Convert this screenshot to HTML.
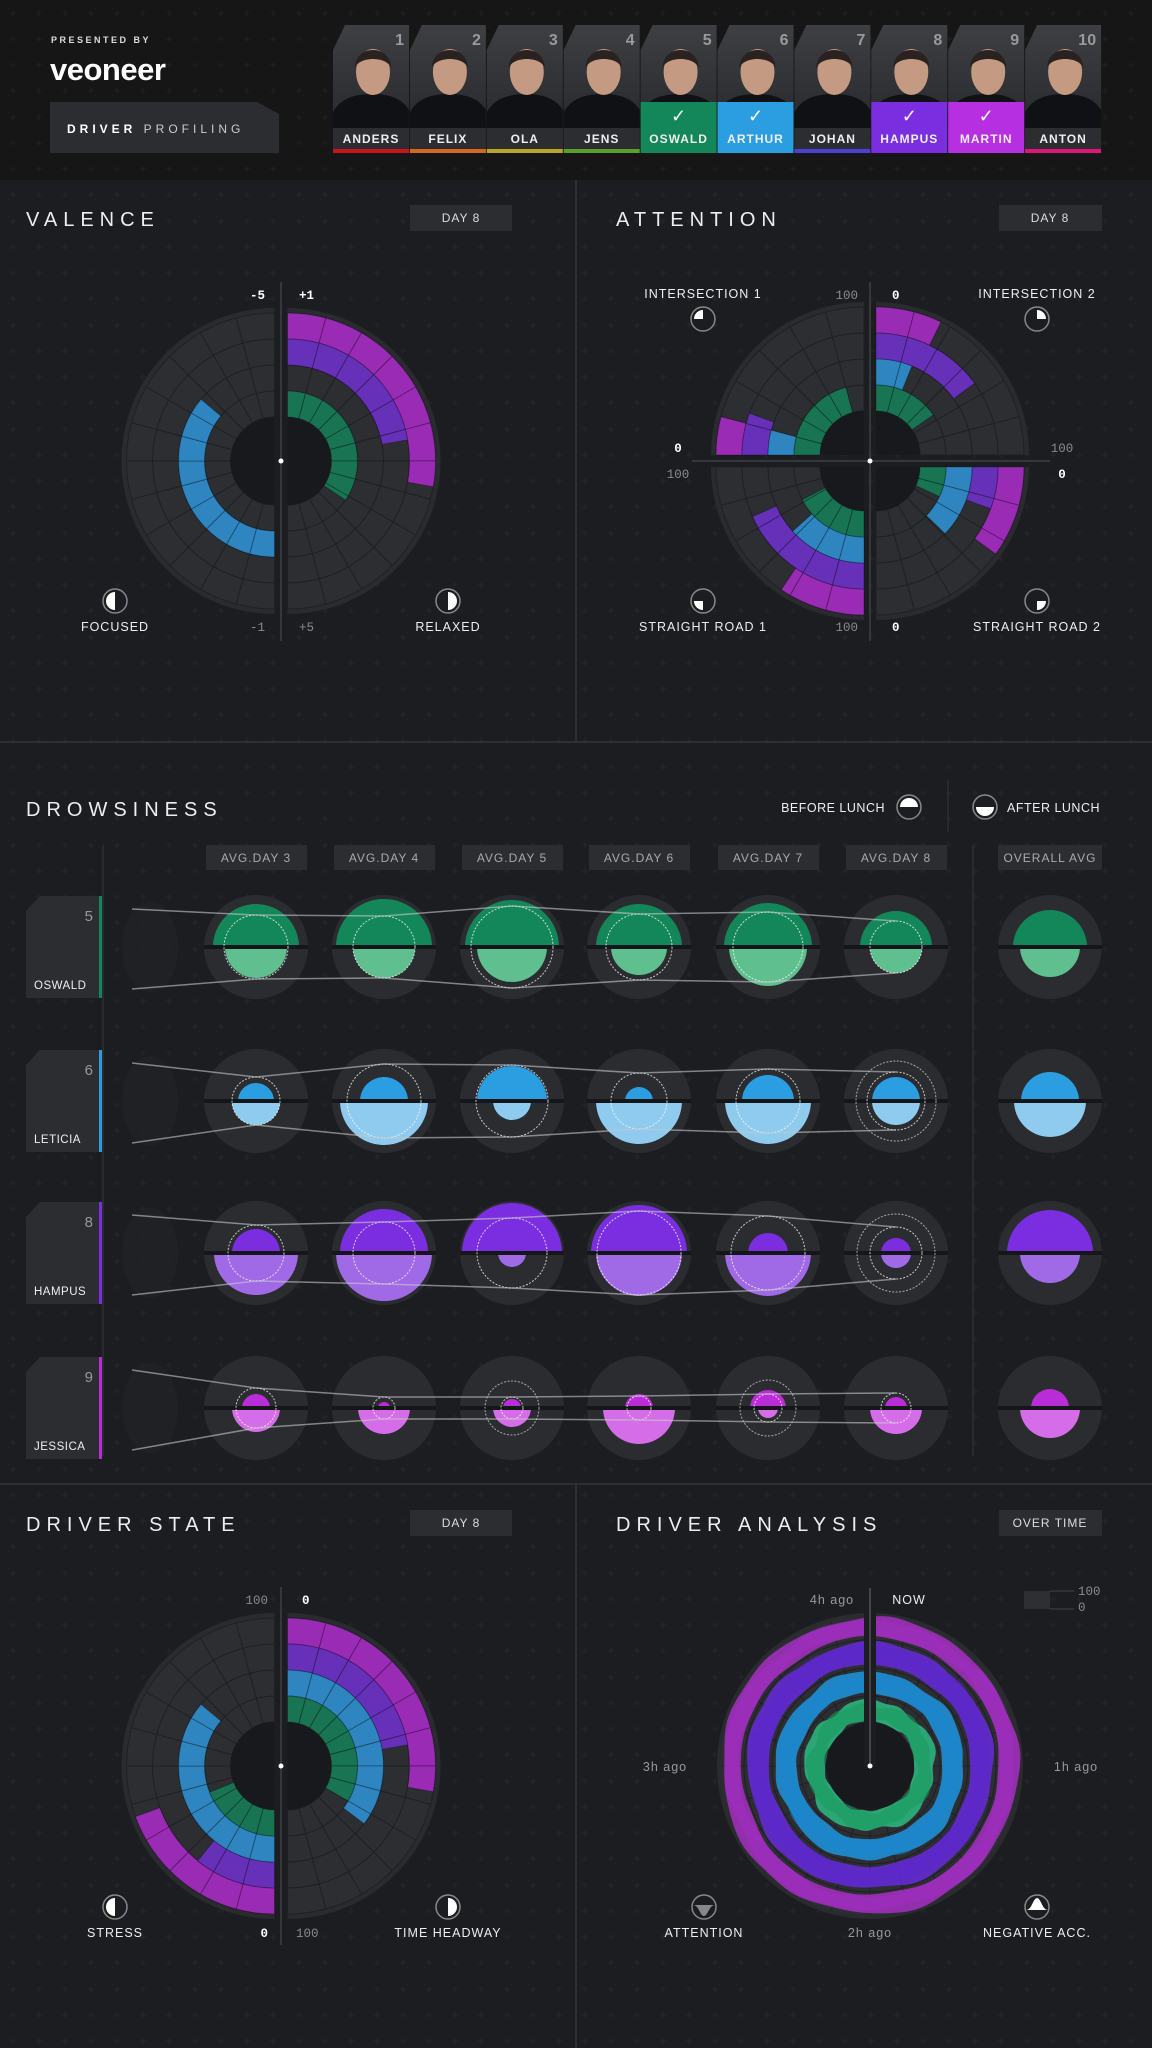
<!DOCTYPE html>
<html><head><meta charset="utf-8">
<style>
html,body{margin:0;padding:0;background:#1c1d21;}
svg{display:block;font-family:"Liberation Sans",sans-serif;}
.t{fill:#eee;font-size:20px;letter-spacing:6px;}
.lb{fill:#eee;font-size:12.5px;letter-spacing:1px;text-anchor:middle;}
.mono{font-family:"Liberation Mono",monospace;font-size:12.5px;}
.g{fill:#8a8b8f;}
.w{fill:#fff;font-weight:bold;}
.btn{fill:#2c2d31;}
.bt{fill:#ddd;font-size:12px;letter-spacing:1px;text-anchor:middle;}
.nm{fill:#eee;font-size:12px;font-weight:bold;letter-spacing:1px;text-anchor:middle;}
.num{fill:#9a9a9a;font-size:16px;font-weight:bold;text-anchor:end;}
</style></head>
<body>
<svg id="s" width="1152" height="2048" viewBox="0 0 1152 2048" xmlns="http://www.w3.org/2000/svg">
<defs>
<pattern id="pl" width="26" height="26" patternUnits="userSpaceOnUse"><path d="M13 10v6M10 13h6" stroke="#ffffff" stroke-opacity="0.045" stroke-width="1"/></pattern>
<linearGradient id="ph" x1="0" y1="0" x2="0" y2="1"><stop offset="0" stop-color="#3e3f42"/><stop offset="1" stop-color="#232427"/></linearGradient>
</defs>
<rect width="1152" height="2048" fill="#1c1d21"/>
<rect width="1152" height="180" fill="#161616"/>
<rect width="1152" height="2048" fill="url(#pl)"/>
<line x1="576" y1="180" x2="576" y2="742" stroke="#2e2f33" stroke-width="2"/>
<line x1="0" y1="742" x2="1152" y2="742" stroke="#2e2f33" stroke-width="2"/>
<line x1="0" y1="1484" x2="1152" y2="1484" stroke="#2e2f33" stroke-width="2"/>
<line x1="576" y1="1484" x2="576" y2="2048" stroke="#2e2f33" stroke-width="2"/>
<line x1="103" y1="845" x2="103" y2="1456" stroke="#2e2f33" stroke-width="1.5"/>
<line x1="973" y1="845" x2="973" y2="1456" stroke="#2e2f33" stroke-width="1.5"/>
<line x1="948" y1="780" x2="948" y2="832" stroke="#2e2f33" stroke-width="1.5"/>
<g id="shapes"></g>

<text x="51" y="43" fill="#ddd" font-size="9" letter-spacing="2.5" font-weight="bold">PRESENTED BY</text>
<text x="50" y="80" fill="#fff" font-size="31" font-weight="bold" letter-spacing="-0.5">veoneer</text>
<path d="M50 102H257L279 114V153H50Z" fill="#2c2d31"/>
<text x="67" y="133" fill="#fff" font-size="12" letter-spacing="4"><tspan font-weight="bold">DRIVER</tspan><tspan fill="#ccc"> PROFILING</tspan></text>
<g id="cards"></g>

<text x="26" y="226" class="t">VALENCE</text>
<rect x="410" y="205" width="102" height="26" class="btn"/><text x="461" y="222" class="bt">DAY 8</text>
<text x="265" y="299" class="mono w" text-anchor="end">-5</text>
<text x="299" y="299" class="mono w">+1</text>
<text x="265" y="631" class="mono g" text-anchor="end">-1</text>
<text x="299" y="631" class="mono g">+5</text>
<text x="115" y="631" class="lb">FOCUSED</text>
<text x="448" y="631" class="lb">RELAXED</text>

<text x="616" y="226" class="t">ATTENTION</text>
<rect x="999" y="205" width="103" height="26" class="btn"/><text x="1050" y="222" class="bt">DAY 8</text>
<text x="703" y="298" class="lb">INTERSECTION 1</text>
<text x="1037" y="298" class="lb">INTERSECTION 2</text>
<text x="703" y="631" class="lb">STRAIGHT ROAD 1</text>
<text x="1037" y="631" class="lb">STRAIGHT ROAD 2</text>
<text x="858" y="299" class="mono g" text-anchor="end">100</text>
<text x="892" y="299" class="mono w">0</text>
<text x="858" y="631" class="mono g" text-anchor="end">100</text>
<text x="892" y="631" class="mono w">0</text>
<text x="678" y="452" class="mono w" text-anchor="middle">0</text>
<text x="678" y="478" class="mono g" text-anchor="middle">100</text>
<text x="1062" y="452" class="mono g" text-anchor="middle">100</text>
<text x="1062" y="478" class="mono w" text-anchor="middle">0</text>

<text x="26" y="816" class="t">DROWSINESS</text>
<text x="885" y="812" fill="#eee" font-size="12.5" letter-spacing="0.5" text-anchor="end">BEFORE LUNCH</text>
<text x="1007" y="812" fill="#eee" font-size="12.5" letter-spacing="0.5">AFTER LUNCH</text>
<g id="colh"></g>

<text x="26" y="1531" class="t">DRIVER STATE</text>
<rect x="410" y="1510" width="102" height="26" class="btn"/><text x="461" y="1527" class="bt">DAY 8</text>
<text x="268" y="1604" class="mono g" text-anchor="end">100</text>
<text x="302" y="1604" class="mono w">0</text>
<text x="268" y="1937" class="mono w" text-anchor="end">0</text>
<text x="296" y="1937" class="mono g">100</text>
<text x="115" y="1937" class="lb">STRESS</text>
<text x="448" y="1937" class="lb">TIME HEADWAY</text>

<text x="616" y="1531" class="t">DRIVER ANALYSIS</text>
<rect x="999" y="1510" width="103" height="26" class="btn"/><text x="1050" y="1527" class="bt">OVER TIME</text>
<text x="832" y="1604" fill="#999" font-size="12.5" letter-spacing="1" text-anchor="middle">4h ago</text>
<text x="909" y="1604" class="lb">NOW</text>
<text x="665" y="1771" fill="#999" font-size="12.5" letter-spacing="1" text-anchor="middle">3h ago</text>
<text x="1076" y="1771" fill="#999" font-size="12.5" letter-spacing="1" text-anchor="middle">1h ago</text>
<text x="870" y="1937" fill="#999" font-size="12.5" letter-spacing="1" text-anchor="middle">2h ago</text>
<text x="704" y="1937" class="lb">ATTENTION</text>
<text x="1037" y="1937" class="lb">NEGATIVE ACC.</text>
<rect x="1024" y="1591" width="26" height="18" fill="#2e2f33"/>
<path d="M1050 1591H1074M1050 1609H1074" stroke="#444" stroke-width="1"/>
<text x="1078" y="1595" class="mono g" font-size="11">100</text>
<text x="1078" y="1611" class="mono g" font-size="11">0</text>

<g id="rows"></g>
</svg>
<script>
const NS='http://www.w3.org/2000/svg';
function el(tag,a,p){const e=document.createElementNS(NS,tag);for(const k in a)e.setAttribute(k,a[k]);(p||document.getElementById('shapes')).appendChild(e);return e;}
function pt(cx,cy,r,a){const t=a*Math.PI/180;return [cx+r*Math.sin(t),cy-r*Math.cos(t)];}
function arc(cx,cy,r0,r1,a0,a1){const p1=pt(cx,cy,r1,a0),p2=pt(cx,cy,r1,a1),p3=pt(cx,cy,r0,a1),p4=pt(cx,cy,r0,a0);const l=(a1-a0)>180?1:0;
return `M${p1[0]},${p1[1]}A${r1},${r1} 0 ${l} 1 ${p2[0]},${p2[1]}L${p3[0]},${p3[1]}A${r0},${r0} 0 ${l} 0 ${p4[0]},${p4[1]}Z`;}
const R=[44,70,96,122,148];
const C={m:'#9a2bb5',p:'#6630b8',b:'#2e85bf',g:'#187452'};
function sector(cx,cy,a0,a1,fills){
  el('path',{d:arc(cx,cy,148,153,a0,a1),fill:'#2a2b2f'});
  for(let i=0;i<4;i++)for(let a=a0;a<a1-0.01;a+=15)
    el('path',{d:arc(cx,cy,R[i],R[i+1],a,a+15),fill:'#2d2e32',stroke:'#1f2024','stroke-width':1});
  fills.forEach(f=>{const [i,f0,f1,c]=f;
    for(let a=a0;a<a1-0.01;a+=15){const s=Math.max(a,f0),e=Math.min(a+15,f1);if(e>s+0.1)
      el('path',{d:arc(cx,cy,R[i],R[i+1],s,e),fill:C[c],stroke:'rgba(0,0,0,0.28)','stroke-width':1});}});
  el('path',{d:arc(cx,cy,0.01,44,a0,a1),fill:'#18191c'});
}
function halfChart(cx,cy,right,left,y0,y1){
  sector(cx+6.5,cy,0,180,right);sector(cx-6.5,cy,180,360,left);
  el('line',{x1:cx,y1:y0,x2:cx,y2:y1,stroke:'#36373b','stroke-width':2});
  el('circle',{cx:cx,cy:cy,r:2.5,fill:'#fff'});
}
halfChart(281,461,[[3,0,100,'m'],[2,0,80,'p'],[0,0,124,'g']],[[1,180,310,'b']],282,641);
halfChart(281,1766,[[3,0,100,'m'],[2,0,80,'p'],[1,0,127,'b'],[0,0,120,'g']],[[3,180,250,'m'],[2,180,219,'p'],[1,180,310,'b'],[0,180,248,'g']],1587,1945);
(function(){const cx=870,cy=461,o=6;
sector(cx-o,cy-o,270,360,[[3,270,285,'m'],[2,270,290,'p'],[1,270,285,'b'],[0,270,345,'g']]);
sector(cx+o,cy-o,0,90,[[3,0,26,'m'],[2,0,54,'p'],[1,0,22,'b'],[0,0,55,'g']]);
sector(cx+o,cy+o,90,180,[[3,90,126,'m'],[2,90,110,'p'],[1,90,134,'b'],[0,90,115,'g']]);
sector(cx-o,cy+o,180,270,[[3,180,214,'m'],[2,180,246,'p'],[1,180,228,'b'],[0,180,242,'g']]);
el('line',{x1:cx,y1:282,x2:cx,y2:641,stroke:'#36373b','stroke-width':2});
el('line',{x1:692,y1:cy,x2:1050,y2:cy,stroke:'#36373b','stroke-width':2});
el('circle',{cx:cx,cy:cy,r:2.5,fill:'#fff'});})();
function halfIcon(x,y,side){el('circle',{cx:x,cy:y,r:12,fill:'#1c1d21',stroke:'#888','stroke-width':1.5});
 const d={L:`M${x},${y-9}A9,9 0 0 0 ${x},${y+9}Z`,R:`M${x},${y-9}A9,9 0 0 1 ${x},${y+9}Z`,T:`M${x-9},${y}A9,9 0 0 1 ${x+9},${y}Z`,B:`M${x-9},${y}A9,9 0 0 0 ${x+9},${y}Z`}[side];
 el('path',{d:d,fill:'#fff'});}
function quarterIcon(x,y,q){el('circle',{cx:x,cy:y,r:12,fill:'#1c1d21',stroke:'#888','stroke-width':1.5});
 const s={TL:[-1,-1],TR:[1,-1],BL:[-1,1],BR:[1,1]}[q];
 el('path',{d:`M${x},${y}L${x+9*s[0]},${y}A9,9 0 0 ${s[0]*s[1]>0?1:0} ${x},${y+9*s[1]}Z`,fill:'#fff'});}
halfIcon(115,601,'L');halfIcon(448,601,'R');halfIcon(115,1907,'L');halfIcon(448,1907,'R');
halfIcon(909,807,'T');halfIcon(985,807,'B');
quarterIcon(703,319,'TL');quarterIcon(1037,319,'TR');quarterIcon(703,601,'BL');quarterIcon(1037,601,'BR');
el('circle',{cx:704,cy:1907,r:12,fill:'#1c1d21',stroke:'#888','stroke-width':1.5});
el('path',{d:'M693,1905H715C709,1905 708,1916 704,1916C700,1916 699,1905 693,1905Z',fill:'#888'});
el('circle',{cx:1037,cy:1907,r:12,fill:'#1c1d21',stroke:'#888','stroke-width':1.5});
el('path',{d:'M1026,1910H1048C1042,1910 1041,1898 1037,1898C1033,1898 1032,1910 1026,1910Z',fill:'#fff'});
(function(){const cx=870,cy=1766;
el('circle',{cx:cx,cy:cy,r:153,fill:'#2a2b2f'});
el('circle',{cx:cx,cy:cy,r:149,fill:'#2d2e32'});
for(let k=0;k<24;k++){const a=k*15,p0=pt(cx,cy,44,a),p1=pt(cx,cy,149,a);el('line',{x1:p0[0],y1:p0[1],x2:p1[0],y2:p1[1],stroke:'#1f2023','stroke-width':1});}
[70,98,126].forEach(r=>el('circle',{cx:cx,cy:cy,r:r,fill:'none',stroke:'#1f2023','stroke-width':1}));
function wob(r,amp,seed){const pts=[];for(let k=0;k<=144;k++){const a=k/144*360;const t=a*Math.PI/180;
 const rr=r+amp*(0.5*Math.sin(5*t+seed)+0.3*Math.sin(9*t+seed*2.1)+0.2*Math.sin(14*t+seed*0.7));pts.push(pt(cx,cy,rr,a));}return pts;}
function band(r0,r1,amp,seed,col,op){const o=wob(r1,amp,seed),i=wob(r0,amp*0.6,seed+1.3).reverse();
 let d='M'+o.map(p=>p.join(',')).join('L')+'Z M'+i.map(p=>p.join(',')).join('L')+'Z';
 el('path',{d:d,fill:col,'fill-opacity':op,'fill-rule':'evenodd'});}
band(129,148,3,0.3,'#b530d5',0.75);band(131,145,3.5,2.1,'#a22dc4',0.55);
band(101,123,3,1.1,'#6a2ae6',0.8);band(103,120,3.5,3.3,'#5a26cc',0.5);
band(73,94,3,2.5,'#1e9be8',0.8);band(75,91,3.5,0.9,'#1a86d0',0.5);
band(45,65,4,1.7,'#2ccf8e',0.75);band(46,62,4,4.2,'#179a5c',0.55);
el('circle',{cx:cx,cy:cy,r:44,fill:'#18191c'});
el('rect',{x:cx-6,y:1588,width:12,height:178,fill:'#1c1d21'});
el('line',{x1:cx,y1:1588,x2:cx,y2:cy,stroke:'#444549','stroke-width':2});
el('circle',{cx:cx,cy:cy,r:2.5,fill:'#fff'});})();
(function(){const names=['ANDERS','FELIX','OLA','JENS','OSWALD','ARTHUR','JOHAN','HAMPUS','MARTIN','ANTON'];
const bars=['#c8141a','#d2691e','#b8a528','#5aa02c','#13875a','#2a9ee0','#4b3fd6','#7b2ee0','#b62fe0','#e0157a'];
const sel={4:1,5:1,7:1,8:1};const P=document.getElementById('cards');
for(let i=0;i<10;i++){const x=333+i*76.9,w=76;
 el('path',{d:`M${x},50L${x+12},25H${x+w}V153H${x}Z`,fill:'url(#ph)'},P);
 const fx=x+40;
 el('path',{d:`M${x},128V112C${x+8},98 ${fx-18},94 ${fx},94C${fx+18},94 ${x+w-6},100 ${x+w},110V128Z`,fill:'#101114'},P);
 el('ellipse',{cx:fx,cy:72,rx:17,ry:23,fill:'#c49a82'},P);
 el('path',{d:`M${fx-18},68C${fx-18},44 ${fx+18},44 ${fx+18},68C${fx+14},56 ${fx-14},56 ${fx-18},68Z`,fill:'#2a2220'},P);
 const t=el('text',{x:x+w-5,y:45,class:'num'},P);t.textContent=String(i+1);
 if(sel[i]){el('rect',{x:x,y:102,width:w,height:51,fill:bars[i]},P);
  const c=el('text',{x:x+w/2,y:122,fill:'#fff','font-size':18,'text-anchor':'middle'},P);c.textContent='✓';}
 else{el('rect',{x:x,y:128,width:w,height:21,fill:'#2c2d31'},P);el('rect',{x:x,y:149,width:w,height:4,fill:bars[i]},P);}
 const n=el('text',{x:x+w/2,y:143,class:'nm'},P);n.textContent=names[i];}
})();
(function(){const H=document.getElementById('colh');const cols=[256,384,512,639,768,896];
['AVG.DAY 3','AVG.DAY 4','AVG.DAY 5','AVG.DAY 6','AVG.DAY 7','AVG.DAY 8'].forEach((s,i)=>{
 el('rect',{x:cols[i]-50,y:845,width:101,height:25,class:'btn'},H);const t=el('text',{x:cols[i],y:862,class:'bt'},H);t.textContent=s;t.setAttribute('style','fill:#aaa');});
el('rect',{x:998,y:845,width:104,height:25,class:'btn'},H);const ov=el('text',{x:1050,y:862,class:'bt'},H);ov.textContent='OVERALL AVG';ov.setAttribute('style','fill:#aaa');
const rows=[
 {y:947,n:'OSWALD',k:'5',c:'#13875a',c2:'#5fbf8f',t:[43,48,47,43,44,36],b:[31,31,35,28,39,26],r:[32,31,41,33,35,26],x:{},o:[37,30]},
 {y:1101,n:'LETICIA',k:'6',c:'#2a9ee0',c2:'#8ecbee',t:[18,24,35,14,26,24],b:[24,44,19,43,43,24],r:[24,37,36,28,32,29],x:{5:40},o:[29,36]},
 {y:1253,n:'HAMPUS',k:'8',c:'#7b2ee0',c2:'#a06ae6',t:[24,44,50,48,20,15],b:[42,48,14,43,43,15],r:[28,31,35,42,37,26],x:{5:39},o:[43,30]},
 {y:1408,n:'JESSICA',k:'9',c:'#b92dd6',c2:'#d56de8',t:[14,6,9,14,18,11],b:[24,26,19,36,10,26],r:[20,11,11,12,14,15],x:{2:27,4:28},o:[19,30]}];
const G=document.getElementById('rows');
function semi(cx,cy,r,top,col){if(r<=0)return;el('path',{d:`M${cx-r},${cy}A${r},${r} 0 0 ${top?1:0} ${cx+r},${cy}Z`,fill:col},G);}
rows.forEach(R=>{const cy=R.y;
 el('path',{d:`M26,${cy-36}L40,${cy-51}H99V${cy+51}H26Z`,fill:'#2c2d31'},G);
 el('rect',{x:99,y:cy-51,width:3,height:102,fill:R.c},G);
 let t=el('text',{x:93,y:cy-26,fill:'#999','font-size':15,'text-anchor':'end'},G);t.textContent=R.k;
 t=el('text',{x:34,y:cy+42,fill:'#eee','font-size':11.5,'letter-spacing':0.5},G);t.textContent=R.n;
 el('ellipse',{cx:150,cy:cy,rx:28,ry:45,fill:'#222327','fill-opacity':0.7},G);
 [...cols,1050].forEach(cx=>el('circle',{cx:cx,cy:cy,r:52,fill:'#2b2c30'},G));
 cols.forEach((cx,i)=>{semi(cx,cy,R.t[i],true,R.c);semi(cx,cy,R.b[i],false,R.c2);});
 semi(1050,cy,R.o[0],true,R.c);semi(1050,cy,R.o[1],false,R.c2);
 [...cols,1050].forEach(cx=>el('rect',{x:cx-52,y:cy-2,width:104,height:4,fill:'#151619'},G));
 cols.forEach((cx,i)=>{el('circle',{cx:cx,cy:cy,r:R.r[i],fill:'none',stroke:'#fff','stroke-opacity':0.75,'stroke-width':1,'stroke-dasharray':'2 1.5'},G);
  if(R.x[i])el('circle',{cx:cx,cy:cy,r:R.x[i],fill:'none',stroke:'#fff','stroke-opacity':0.6,'stroke-width':1,'stroke-dasharray':'2 1.5'},G);});
 let top=`M132,${cy-38}`,bot=`M132,${cy+42}`;
 cols.forEach((cx,i)=>{top+=`L${cx},${cy-R.r[i]}`;bot+=`L${cx},${cy+R.r[i]}`;});
 el('path',{d:top,fill:'none',stroke:'#c8c8c8','stroke-opacity':0.6,'stroke-width':1.5},G);
 el('path',{d:bot,fill:'none',stroke:'#c8c8c8','stroke-opacity':0.6,'stroke-width':1.5},G);
});})();
</script>
</body></html>
